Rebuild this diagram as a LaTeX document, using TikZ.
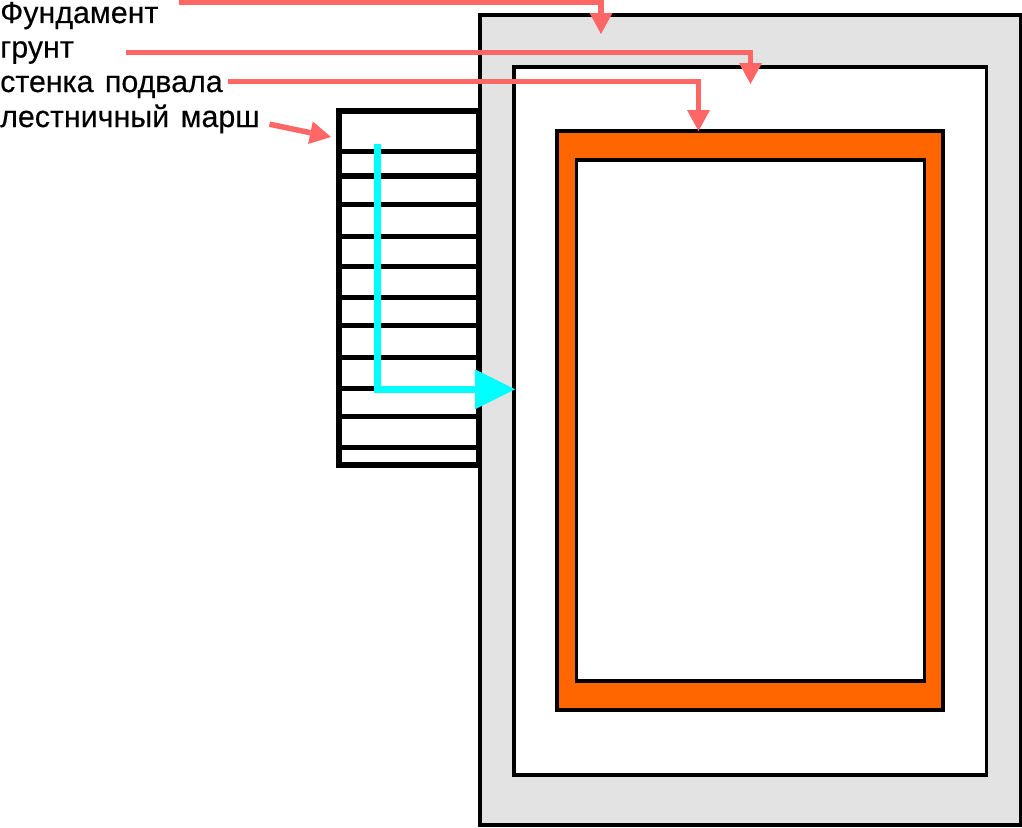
\documentclass[tikz,border=0pt]{standalone}
\usepackage{fontspec}
\setmainfont{Liberation Sans}[FakeBold=0.25,WordSpace=1.35]
\usetikzlibrary{arrows.meta}
\definecolor{salmonline}{HTML}{FF6666}
\definecolor{foundgrey}{HTML}{E3E3E3}
\definecolor{wallorange}{HTML}{FF6600}
\definecolor{pathcyan}{HTML}{00FFFF}
\tikzset{
  lbl/.style={anchor=base west,inner sep=0pt,font=\fontsize{30.4}{33}\selectfont},
  pointer/.style={draw=salmonline,line width=5.5pt,-{Triangle[length=21pt,width=23pt,line width=0pt,fill=salmonline]}},
  box/.style={draw=black,line width=3.6pt},
  stepline/.style={draw=black,line width=5.3pt},
  route/.style={draw=pathcyan,line width=7.3pt,-{Triangle[length=40pt,width=40pt,line width=0pt,fill=pathcyan]}}
}
\begin{document}
\begin{tikzpicture}[x=1pt,y=-1pt]
\useasboundingbox (0,0) rectangle (1022,827);
\fill[white] (0,0) rectangle (1022,827);
% stair flight
\draw[black,line width=6pt] (339,111) rectangle (478.8,464.7);
\foreach \yy in {151.3,204.5,236.5,266.5,297.5,325.5,357.5,388.5,416.5,447.5}
  \draw[stepline] (339,\yy) -- (478,\yy);
\draw[stepline,line width=6pt] (339,176) -- (478,176);
% building
\draw[box,fill=foundgrey] (479.7,15) rectangle (1020.5,825);
\draw[box,fill=white] (514,66.7) rectangle (986.4,774.8);
\draw[box,line width=4pt,fill=wallorange] (557,131) rectangle (943.3,710);
\draw[box,fill=white] (576.5,160) rectangle (924.5,681);
% labels
\node[lbl] (fund) at (0,23) {Фундамент};
\node[lbl] (grunt) at (0,57.5) {грунт};
\node[lbl] (wall) at (0,92) {стенка подвала};
\node[lbl] (stairs) at (0,127) {лестничный марш};
% free ends of connectors
\coordinate (fundS) at (179,2.5);
\coordinate (fundB) at (601,2.5);
\coordinate (fundT) at (601,34);
\coordinate (gruntS) at (126,52.5);
\coordinate (gruntB) at (750.5,52.5);
\coordinate (gruntT) at (750.5,84);
\coordinate (wallS) at (228,81.5);
\coordinate (wallB) at (698.5,81.5);
\coordinate (wallT) at (698.5,131);
\coordinate (stairsS) at (269.5,124.2);
\coordinate (stairsT) at (331,137);
\coordinate (routeS) at (377.5,144);
\coordinate (routeB) at (377.5,389.3);
\coordinate (routeT) at (515,389.3);
% connectors
\draw[pointer] (fundS) -- (fundB) -- (fundT);
\draw[pointer] (gruntS) -- (gruntB) -- (gruntT);
\draw[pointer] (wallS) -- (wallB) -- (wallT);
\draw[pointer] (stairsS) -- (stairsT);
\draw[route] (routeS) -- (routeB) -- (routeT);
\end{tikzpicture}
\end{document}
